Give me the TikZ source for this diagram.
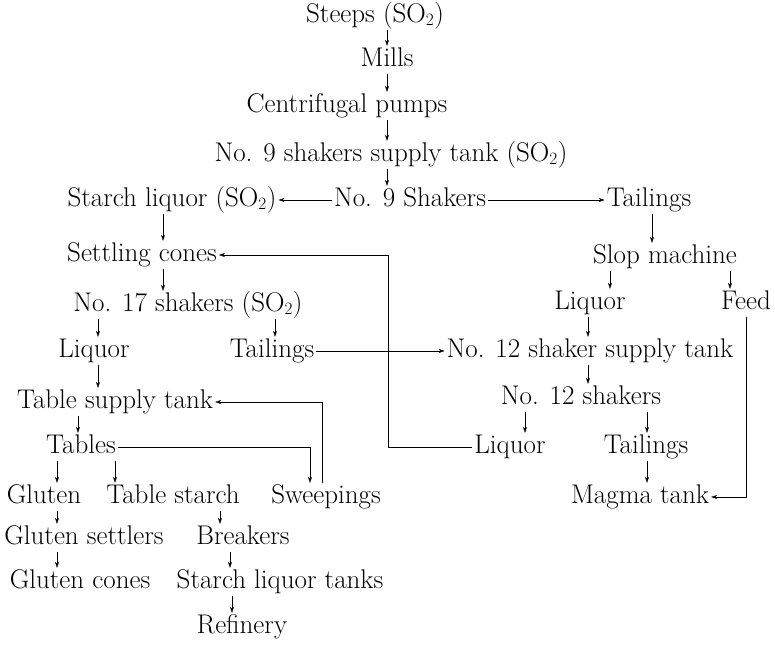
\documentclass[tikz,border=0pt]{standalone}
\usetikzlibrary{arrows.meta}
\begin{document}
\begin{tikzpicture}[x=1pt, y=-1pt,
    stage/.style={inner sep=2pt, text height=18pt, text depth=6pt,
      font=\fontsize{27}{32}\selectfont},
    flow/.style={-{Stealth[length=6pt,width=4pt]}, thin}]
\useasboundingbox (0,0) rectangle (775,651);

% main line
\node[stage] (steeps) at (375,16) {Steeps (SO$_2$)};
\node[stage] (mills) at (387,60) {Mills};
\node[stage] (pumps) at (347,106) {Centrifugal pumps};
\node[stage] (supply9) at (391,155) {No. 9 shakers supply tank (SO$_2$)};
\node[stage] (liquor1) at (172,200) {Starch liquor (SO$_2$)};
\node[stage] (shakers9) at (410,200) {No. 9 Shakers};
\node[stage] (tail1) at (649,200) {Tailings};

% left branch
\node[stage] (cones) at (142,255) {Settling cones};
\node[stage] (shakers17) at (188,305) {No. 17 shakers (SO$_2$)};
\node[stage] (liquor3) at (94,351) {Liquor};
\node[stage] (tail2) at (272,351) {Tailings};
\node[stage] (tabletank) at (115,402) {Table supply tank};
\node[stage] (tables) at (81,447) {Tables};
\node[stage] (gluten) at (44,497) {Gluten};
\node[stage] (tstarch) at (173,497) {Table starch};
\node[stage] (sweep) at (326,497) {Sweepings};
\node[stage] (settlers) at (84,538) {Gluten settlers};
\node[stage] (breakers) at (243,538) {Breakers};
\node[stage] (glcones) at (80,582) {Gluten cones};
\node[stage] (sltanks) at (280,582) {Starch liquor tanks};
\node[stage] (refinery) at (242,627) {Refinery};

% right branch
\node[stage] (slop) at (665,257) {Slop machine};
\node[stage] (liquor2) at (590,303) {Liquor};
\node[stage] (feed) at (746,303) {Feed};
\node[stage] (supply12) at (590,351) {No. 12 shaker supply tank};
\node[stage] (shakers12) at (581,398) {No. 12 shakers};
\node[stage] (liquor4) at (510,447) {Liquor};
\node[stage] (tail3) at (646,447) {Tailings};
\node[stage] (magma) at (640,497) {Magma tank};

% short downward arrows
\foreach \a/\b/\d in {steeps/mills/12, mills/pumps/0, pumps/supply9/40, supply9/shakers9/-4,
    liquor1/cones/-9, tail1/slop/3, cones/shakers17/21, slop/liquor2/-55, slop/feed/65,
    shakers17/liquor3/-90, shakers17/tail2/87, liquor2/supply12/-2, liquor3/tabletank/4,
    tabletank/tables/-37, tables/gluten/-24, tables/tstarch/34, gluten/settlers/13,
    tstarch/breakers/47, settlers/glcones/-27, breakers/sltanks/-13, sltanks/refinery/-48,
    supply12/shakers12/-2, shakers12/liquor4/-56, shakers12/tail3/66, tail3/magma/1}
  \draw[flow] ([xshift=\d pt]\a.south) -- ([xshift=\d pt]\a.south |- \b.north);

% side connections
\draw[flow] (shakers9) -- (liquor1);
\draw[flow] (shakers9) -- (tail1);
\draw[flow] (tail2) -- (supply12);
\coordinate (back) at (388,447);
\draw[flow] (liquor4) -- (back) |- (cones);
\draw[flow] (tables) -| ([xshift=-16pt]sweep.north);
\draw[flow] ([xshift=-4pt]sweep.north) |- (tabletank);
\draw[flow] (feed) |- (magma);

\end{tikzpicture}
\end{document}
